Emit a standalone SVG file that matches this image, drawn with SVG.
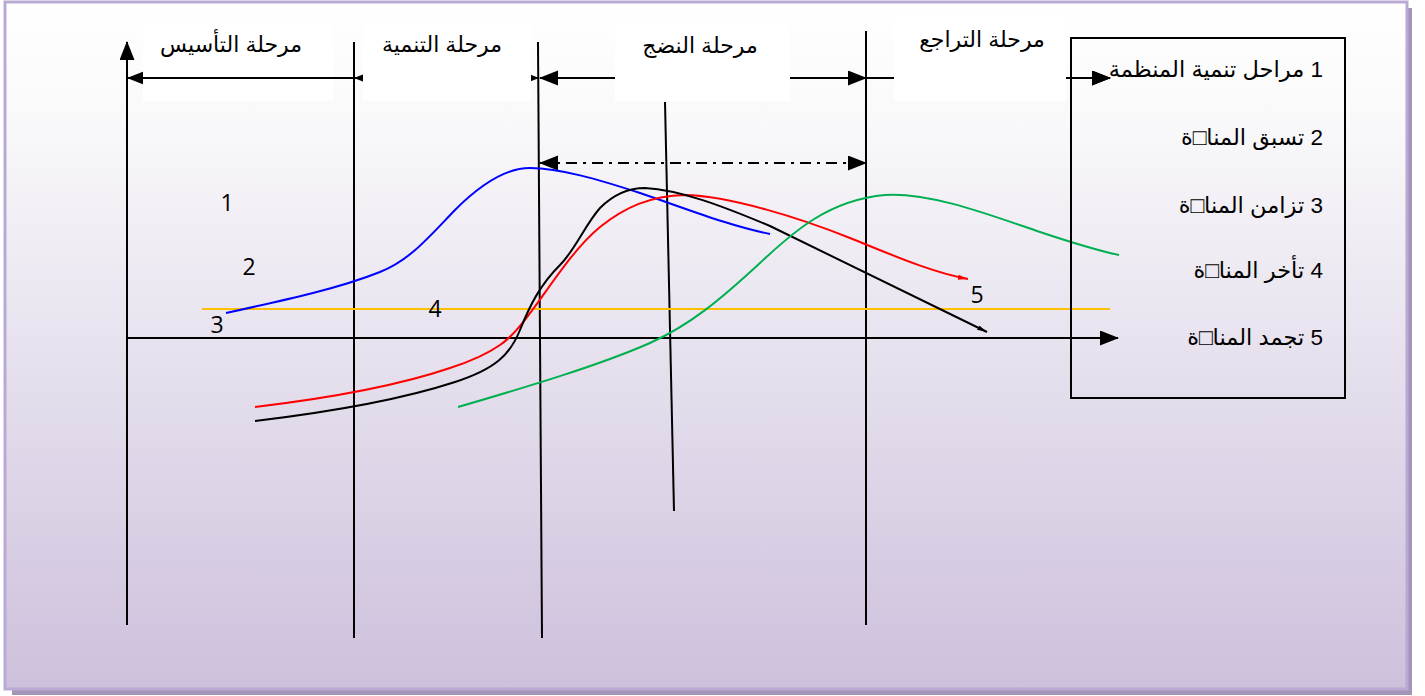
<svg xmlns="http://www.w3.org/2000/svg" width="1425" height="696" viewBox="0 0 1425 696">
<defs>
<linearGradient id="bg" x1="0" y1="0" x2="0" y2="1">
<stop offset="0" stop-color="#ffffff"/>
<stop offset="0.15" stop-color="#fafafb"/>
<stop offset="1" stop-color="#cdc0dc"/>
</linearGradient>
<marker id="ah" markerUnits="userSpaceOnUse" markerWidth="20" markerHeight="16" refX="18" refY="7.5" orient="auto-start-reverse" viewBox="0 0 20 16">
<path d="M0,0 L19,7.5 L0,15 Z" fill="#000"/>
</marker>
<marker id="sh" markerUnits="userSpaceOnUse" markerWidth="12" markerHeight="8" refX="10" refY="2.5" orient="auto" viewBox="0 0 12 8">
<path d="M0,0 L10,2.5 L0,5 Z" fill="context-stroke"/>
</marker>
<style>
.ln{stroke:#000;stroke-width:2;fill:none}
.cv{fill:none;stroke-width:2}
.box{fill:#ffffff}
.hd{font-family:"Liberation Sans","DejaVu Sans",sans-serif;font-size:22px;fill:#000;text-anchor:middle}
.lg{font-family:"Liberation Sans","DejaVu Sans",sans-serif;font-size:22.5px;fill:#000}
.num{font-family:"Open Sans","Liberation Sans",sans-serif;font-size:23px;fill:#000;text-anchor:middle}
</style>
</defs>
<g id="background">
<rect x="1407" y="8" width="5" height="686" fill="#a395b8"/>
<rect x="12" y="689" width="1400" height="6" fill="#a395b8"/>
<rect x="5" y="2" width="1402" height="687" fill="url(#bg)" stroke="#b9a9d3" stroke-width="3"/>
</g>
<g id="connectors">
<line class="ln" x1="127" y1="625" x2="127" y2="42" marker-end="url(#ah)"/>
<line class="ln" x1="354" y1="42" x2="354" y2="638"/>
<line class="ln" x1="538" y1="42" x2="542" y2="638"/>
<line class="ln" x1="665" y1="102" x2="674" y2="511"/>
<line class="ln" x1="866" y1="31" x2="866" y2="625"/>
<line class="ln" x1="127" y1="338" x2="1118" y2="338" marker-end="url(#ah)"/>
<line class="ln" x1="354" y1="78" x2="128" y2="78" marker-end="url(#ah)"/>
<line class="ln" x1="355" y1="78" x2="538" y2="78" marker-start="url(#ah)" marker-end="url(#ah)"/>
<line class="ln" x1="540" y1="78" x2="866" y2="78" marker-start="url(#ah)" marker-end="url(#ah)"/>
<line class="ln" x1="866" y1="78" x2="1110" y2="78" marker-end="url(#ah)"/>
<line class="ln" x1="540" y1="163" x2="866" y2="163" stroke-dasharray="11,6,3,6" marker-start="url(#ah)" marker-end="url(#ah)"/>
<line x1="202" y1="309" x2="1110" y2="309" stroke="#ffc000" stroke-width="2"/>
<path class="cv" stroke="#0000ff" d="M226,313 C290,299 340,288 380,272 C410,260 428,238 455,210 C480,185 505,168 530,168 C560,168 600,180 640,193 C690,210 730,226 770,234"/>
<path class="cv" stroke="#ff0000" d="M255,407 C330,398 400,385 450,368 C475,360 490,352 500,345 C530,325 560,260 600,227 C625,207 650,196 685,195 C730,196 800,218 850,238 C890,254 930,272 968,279" marker-end="url(#sh)"/>
<path class="cv" stroke="#000000" d="M255,421 C330,412 400,400 455,382 C495,369 510,355 520,330 C530,305 540,285 560,265 C575,250 585,225 600,208 C615,193 630,188 645,188 C680,190 720,205 770,226 L987,332" marker-end="url(#sh)"/>
<path class="cv" stroke="#00b050" d="M458,407 C530,386 600,365 650,343 C690,325 720,300 760,263 C795,230 830,200 885,195 C930,192 990,215 1040,232 C1070,242 1095,250 1119,255"/>
</g>
<g id="phase-foundation">
<rect class="box" x="143" y="23" width="190" height="54"/>
<rect class="box" x="143" y="79" width="190" height="22"/>
<text class="hd" x="231" y="52">مرحلة التأسيس</text>
</g>
<g id="phase-development">
<rect class="box" x="363" y="23" width="168" height="78"/>
<text class="hd" x="442" y="52">مرحلة التنمية</text>
</g>
<g id="phase-maturity">
<rect class="box" x="615" y="22" width="175" height="79"/>
<text class="hd" x="700" y="53">مرحلة النضج</text>
</g>
<g id="phase-decline">
<rect class="box" x="894" y="15" width="172" height="86"/>
<text class="hd" x="982" y="47">مرحلة التراجع</text>
</g>
<g id="legend">
<rect x="1071" y="38" width="274" height="360" fill="none" stroke="#000" stroke-width="2"/>
<line class="ln" x1="1071" y1="78" x2="1110" y2="78" marker-end="url(#ah)"/>
<text class="lg" x="1323" y="77" direction="rtl" text-anchor="start">1 مراحل تنمية المنظمة</text>
<text class="lg" x="1323" y="145" direction="rtl" text-anchor="start">2 تسبق المنا□ة</text>
<text class="lg" x="1323" y="213" direction="rtl" text-anchor="start">3 تزامن المنا□ة</text>
<text class="lg" x="1323" y="278" direction="rtl" text-anchor="start">4 تأخر المنا□ة</text>
<text class="lg" x="1323" y="345" direction="rtl" text-anchor="start">5 تجمد المنا□ة</text>
</g>
<g id="labels">
<text class="num" x="227" y="211">1</text>
<text class="num" x="249" y="275">2</text>
<text class="num" x="217" y="333">3</text>
<text class="num" x="435" y="317">4</text>
<text class="num" x="977" y="303">5</text>
</g>
</svg>
